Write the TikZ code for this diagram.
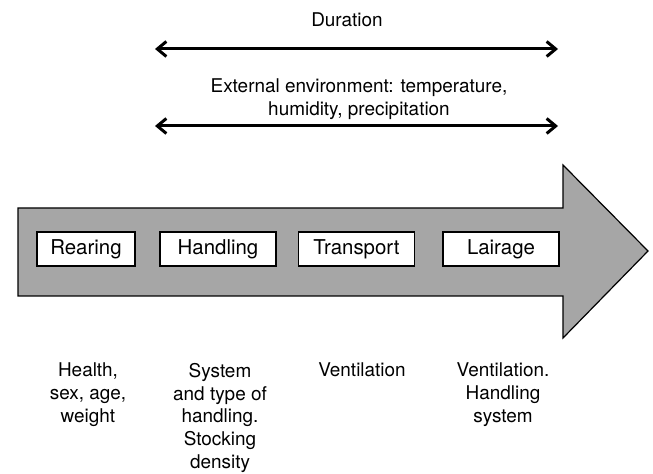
\documentclass[tikz,border=0pt]{standalone}
\usepackage{fontspec}
\setmainfont{TeX Gyre Heros}
\usetikzlibrary{arrows.meta,positioning}
\definecolor{bodygray}{RGB}{166,166,166}

\begin{document}
\begin{tikzpicture}[x=1bp,y=-1bp,
stage/.style={rectangle, draw=black, line width=1.6bp, fill=white, minimum height=34bp, minimum width=116bp, inner sep=0pt, font=\fontsize{20.5}{24}\selectfont},
factor/.style={align=center, anchor=north, inner sep=0pt, font=\fontsize{19}{22.8}\selectfont},
span/.style={{Straight Barb[length=9bp,width=15bp]}-{Straight Barb[length=9bp,width=15bp]}, line width=3bp},
]
\useasboundingbox (0,0) rectangle (653,474);

\draw[fill=bodygray, line width=1.2bp] (18,208) -- (563,208) -- (563,165) -- (648,251) -- (563,338) -- (563,296) -- (18,296) -- cycle;

\node at (86,249) [stage, minimum width=98bp](rearing){Rearing};
\node at (218,249) [stage](handling){Handling};
\node at (356.5,249) [stage](transport){Transport};
\node at (501,249) [stage](lairage){Lairage};

\node at (347,13) [factor](duration){Duration};
\coordinate (duration_start) at (155,49);
\coordinate (duration_end) at (558,49);
\draw[span] (duration_start) -- (duration_end);

\node at (359,79) [factor](environment){External environment: temperature,\\humidity, precipitation};
\coordinate (environment_start) at (155,126);
\coordinate (environment_end) at (558,126);
\draw[span] (environment_start) -- (environment_end);

\node at (88,363) [factor](rearing_factor){Health,\\sex, age,\\weight};
\node at (220,363) [factor](handling_factor){System\\and type of\\handling.\\Stocking\\density};
\node at (362,363) [factor](transport_factor){Ventilation};
\node at (503,363) [factor](lairage_factor){Ventilation.\\Handling\\system};

\end{tikzpicture}
\end{document}
